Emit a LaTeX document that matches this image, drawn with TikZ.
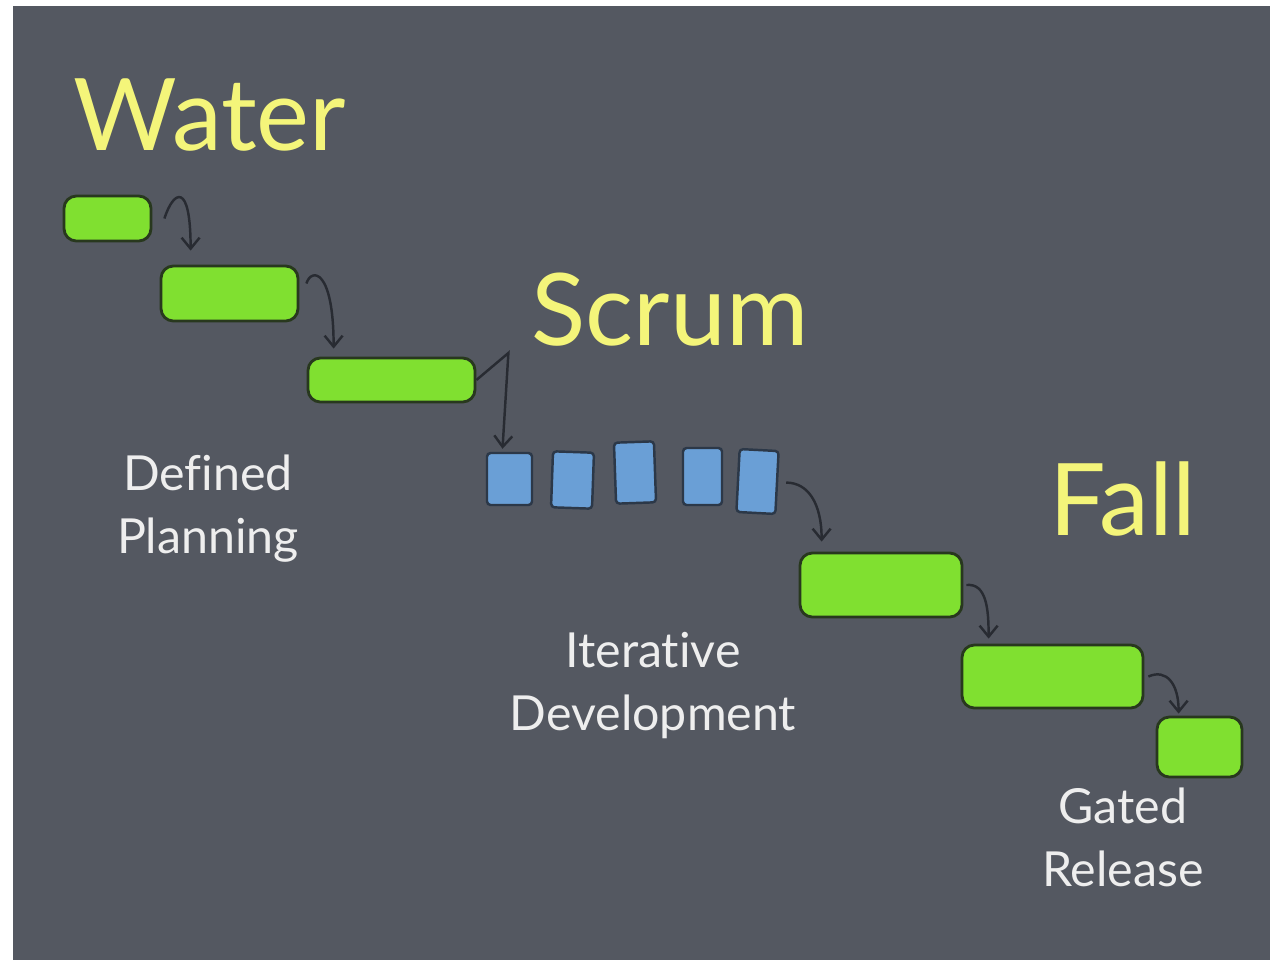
\documentclass[tikz,border=0pt]{standalone}
\usepackage{fontspec}
\setmainfont{Lato}[Ligatures=NoCommon]
\usetikzlibrary{arrows.meta}
\definecolor{slate}{RGB}{84,88,97}
\definecolor{lime}{RGB}{128,224,48}
\definecolor{limeedge}{RGB}{40,56,30}
\definecolor{sky}{RGB}{106,159,214}
\definecolor{skyedge}{RGB}{44,56,72}
\definecolor{inkdark}{RGB}{40,43,50}
\definecolor{chalkyellow}{RGB}{244,245,122}
\definecolor{chalkwhite}{RGB}{238,238,238}

\begin{document}
\begin{tikzpicture}[x=0.02cm, y=-0.02cm,
    greenbox/.style={draw=limeedge, line width=1.6pt, fill=lime, rounded corners=7pt},
    bluebox/.style={draw=skyedge, line width=1.4pt, fill=sky, rounded corners=2pt},
    flow/.style={draw=inkdark, line width=1.4pt, -{Straight Barb[length=2.2mm,width=3.6mm]}},
    heading/.style={text=chalkyellow, font=\fontsize{57}{60}\selectfont, anchor=base},
    note/.style={text=chalkwhite, font=\fontsize{27.5}{35.7}\selectfont, align=center, anchor=base}]
            % Page and slide background
            \useasboundingbox (0,0) rectangle (1270,960);
            \fill[white] (0,0) rectangle (1270,960);
            \fill[slate] (13,6) rectangle (1270,960);

            % Titles
            \node[heading] (water) at (210,150) {Water};
            \node[heading] (scrum) at (670,345) {Scrum};
            \node[heading] (fall) at (1123,535) {Fall};

            % Waterfall steps at the top
            \node[greenbox, minimum width=1.74cm, minimum height=0.9cm] (g1) at (107.5,218.5) {};
            \node[greenbox, minimum width=2.74cm, minimum height=1.1cm] (g2) at (229.5,293.5) {};
            \node[greenbox, minimum width=3.34cm, minimum height=0.88cm] (g3) at (391.5,380) {};

            % Sprints in the middle
            \node[bluebox, minimum width=0.9cm, minimum height=1.04cm] (b1) at (509.5,479) {};
            \node[bluebox, minimum width=0.82cm, minimum height=1.12cm, rotate=-2] (b2) at (572.5,480) {};
            \node[bluebox, minimum width=0.8cm, minimum height=1.22cm, rotate=2] (b3) at (635,472.5) {};
            \node[bluebox, minimum width=0.78cm, minimum height=1.14cm] (b4) at (702.5,476.5) {};
            \node[bluebox, minimum width=0.78cm, minimum height=1.26cm, rotate=-3] (b5) at (757.5,481.5) {};

            % Waterfall steps at the bottom
            \node[greenbox, minimum width=3.24cm, minimum height=1.28cm] (g4) at (881,585) {};
            \node[greenbox, minimum width=3.62cm, minimum height=1.26cm] (g5) at (1052.5,676.5) {};
            \node[greenbox, minimum width=1.7cm, minimum height=1.2cm] (g6) at (1199.5,747) {};

            % Hand drawn hand-over arrows
            \draw[flow] ([xshift=0.24cm]g1.east) .. controls +(9,-28) and +(0,-70) .. ([xshift=0.62cm,yshift=0.28cm]g2.north west);
            \draw[flow] ([xshift=0.14cm,yshift=0.2cm]g2.east) .. controls +(5,-16) and +(0,-80) .. ([xshift=0.54cm,yshift=0.16cm]g3.north west);
            \draw[flow] (g3.east) -- ++(32,-27) -- ([xshift=-0.14cm,yshift=0.06cm]b1.north);
            \draw[flow] ([xshift=0.16cm]b5.east) .. controls +(22,0) and +(0,-38) .. ([xshift=0.46cm,yshift=0.2cm]g4.north west);
            \draw[flow] ([xshift=0.06cm]g4.east) .. controls +(20,-2) and +(0,-30) .. ([xshift=0.56cm,yshift=0.1cm]g5.north west);
            \draw[flow] ([xshift=0.08cm]g5.east) .. controls +(18,-8) and +(0,-30) .. ([xshift=0.46cm,yshift=0.04cm]g6.north west);

            % Phase captions (base is the last line)
            \node[note] (planning) at (208,553) {Defined\\Planning};
            \node[note] (iterative) at (653,730) {Iterative\\Development};
            \node[note] (release) at (1123,886) {Gated\\Release};
        \end{tikzpicture}
\end{document}
